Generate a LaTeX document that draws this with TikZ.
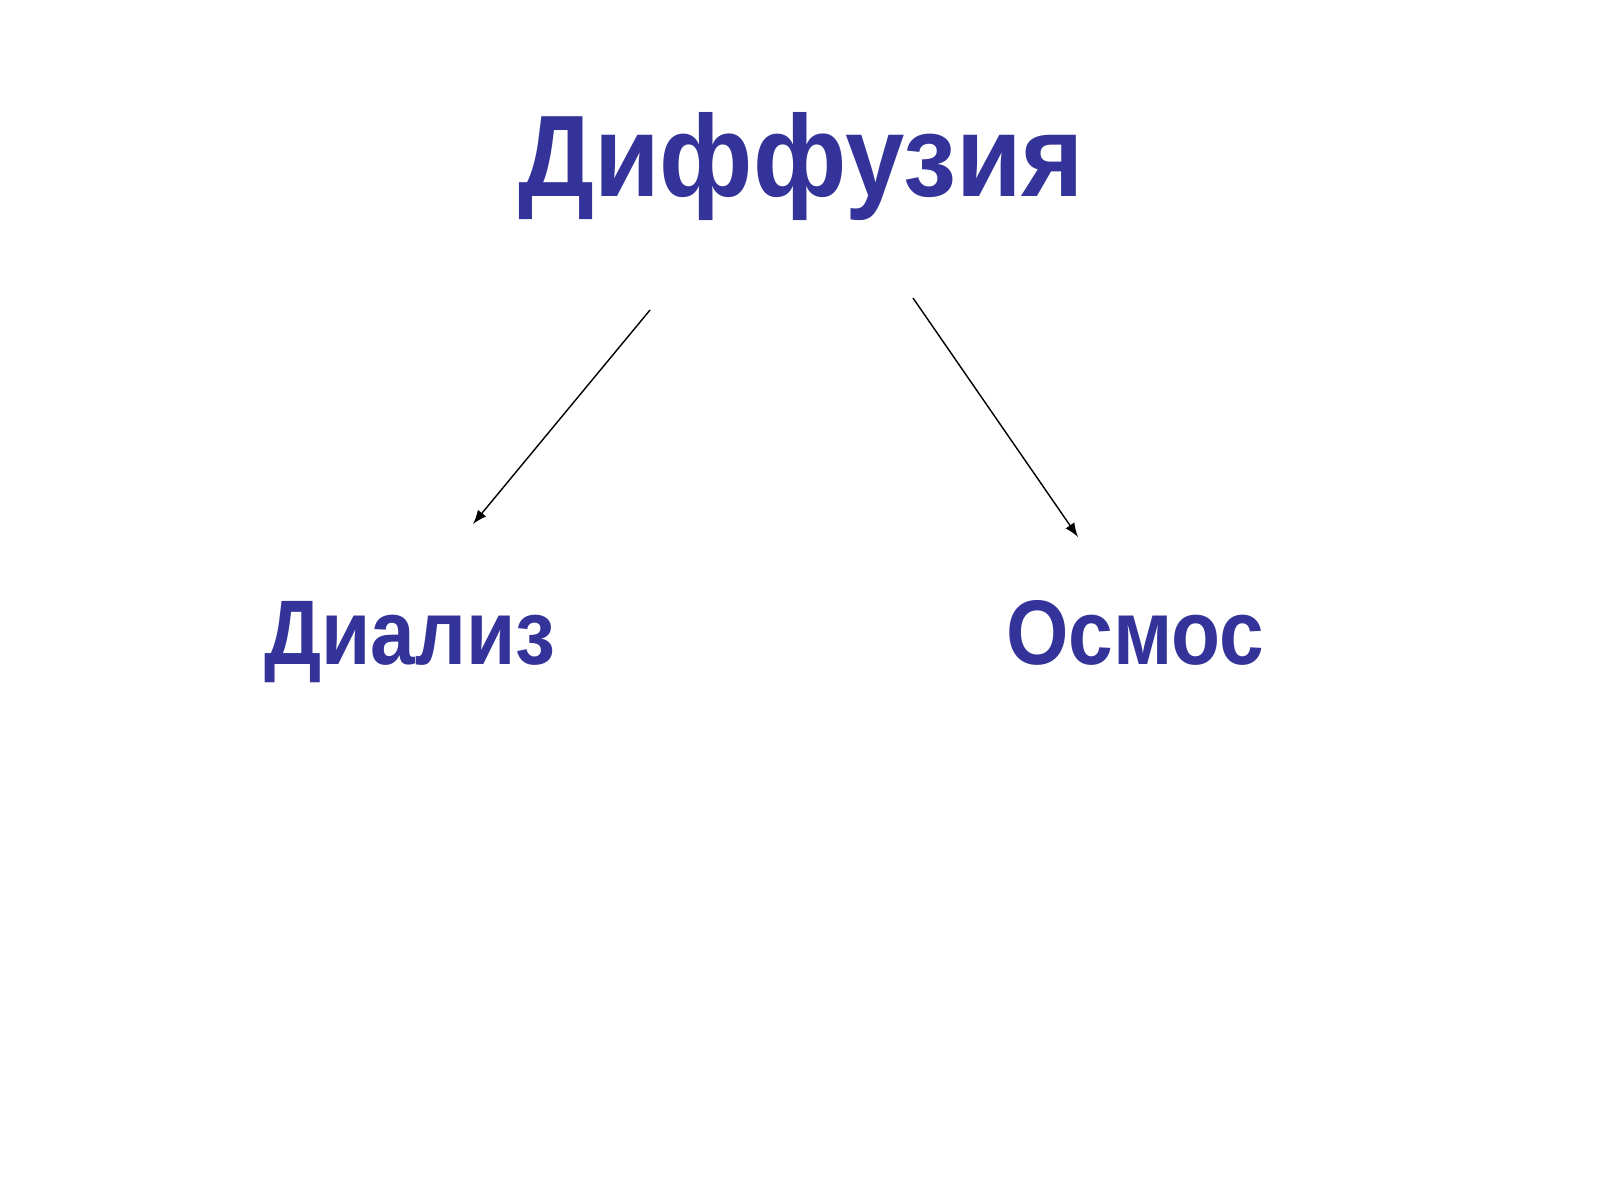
\documentclass[tikz,border=0pt]{standalone}
\usepackage{fontspec}
\setmainfont{Liberation Sans}
\newfontfamily\titlefont[FakeStretch=0.92]{Liberation Sans}
\newfontfamily\labelfont[FakeStretch=0.875]{Liberation Sans}
\usetikzlibrary{arrows}
\definecolor{titleblue}{RGB}{51,51,153}

\begin{document}
\begin{tikzpicture}[->,>=latex,line width=0.4pt]
\useasboundingbox[fill=white] (0,0) rectangle (16,-12);
\node[anchor=base,text=titleblue,font=\titlefont\fontsize{33}{38}\selectfont\bfseries] at (8.01,-1.96) (diff) {Диффузия};
\node[anchor=base,text=titleblue,font=\labelfont\fontsize{26.1}{30}\selectfont\bfseries] at (4.10,-6.64) (dial) {Диализ};
\node[anchor=base,text=titleblue,font=\labelfont\fontsize{26.1}{30}\selectfont\bfseries] at (11.35,-6.64) (osm) {Осмос};
\coordinate (dialfrom) at (6.50,-3.10);
\coordinate (dialto) at (4.73,-5.24);
\coordinate (osmfrom) at (9.13,-2.98);
\coordinate (osmto) at (10.78,-5.37);
\draw (dialfrom) -- (dialto);
\draw (osmfrom) -- (osmto);
\end{tikzpicture}
\end{document}
